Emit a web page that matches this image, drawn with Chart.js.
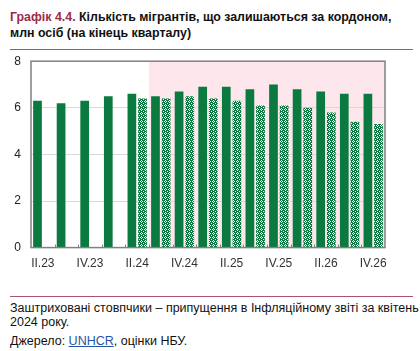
<!DOCTYPE html>
<html>
<head>
<meta charset="utf-8">
<script src="https://cdn.jsdelivr.net/npm/chart.js@4"></script>
<style>
  body { margin: 0; width: 420px; height: 351px; background: #fff; font-family: "Liberation Sans", Arial, sans-serif; position: relative; overflow: hidden; }
  .title { position: absolute; left: 10px; top: 9px; width: 405px; font-size: 12.4px; font-weight: bold; line-height: 16px; color: #111; }
  .title span { color: #9b2a4a; }
  .rule { position: absolute; left: 10px; width: 403px; height: 1px; background: #a8546a; }
  #wrap { position: absolute; left: 0; top: 44px; width: 420px; height: 228px; }
  .note { position: absolute; left: 10px; font-size: 12.5px; line-height: 14px; color: #111; width: 410px; }
  .note a { color: #1f56a8; text-decoration: underline; }
</style>
</head>
<body>
<div class="title"><span>Графік 4.4.</span> Кількість мігрантів, що залишаються за кордоном,<br>млн осіб (на кінець кварталу)</div>
<div class="rule" style="top:49px"></div>
<div id="wrap"><canvas id="migr"></canvas></div>
<div class="rule" style="top:296px"></div>
<div class="note" style="top:301px">Заштриховані стовпчики – припущення в Інфляційному звіті за квітень 2024 року.</div>
<div class="note" style="top:334px">Джерело: <a>UNHCR</a>, оцінки НБУ.</div>
<script>
const quarters = ["II.23", "III.23", "IV.23", "I.24", "II.24", "III.24", "IV.24", "I.25", "II.25", "III.25", "IV.25", "I.26", "II.26", "III.26", "IV.26"];
const xTickLabels = ["II.23", "", "IV.23", "", "II.24", "", "IV.24", "", "II.25", "", "IV.25", "", "II.26", "", "IV.26"];
const actual = [6.3, 6.2, 6.3, 6.5, 6.6, 6.5, 6.7, 6.9, 6.9, 6.8, 7.0, 6.8, 6.7, 6.6, 6.6];
const aprilReport = [null, null, null, null, 6.4, 6.4, 6.5, 6.4, 6.3, 6.1, 6.1, 6.0, 5.8, 5.4, 5.3];
const yTicks = [0, 2, 4, 6, 8];
const forecastFrom = 5; // перший квартал прогнозу (III.24)

const green = "#0a7a40";

// штриховка
const tile = document.createElement("canvas");
tile.width = 4; tile.height = 4;
const t = tile.getContext("2d");
t.fillStyle = green;
t.fillRect(0, 0, 4, 4);
t.fillStyle = "#ffffff";
[[1, 0], [0, 1], [2, 1], [1, 2], [3, 3]].forEach(function (p) { t.fillRect(p[0], p[1], 1, 1); });
const hatchFill = document.getElementById("migr").getContext("2d").createPattern(tile, "repeat");

const bgAndFrame = {
  id: "bgAndFrame",
  beforeDraw(chart) {
    const ctx = chart.ctx, a = chart.chartArea, x = chart.scales.x;
    const x0 = (x.getPixelForTick(forecastFrom - 1) + x.getPixelForTick(forecastFrom)) / 2;
    ctx.save();
    ctx.fillStyle = "#fde7ec";
    ctx.fillRect(x0, a.top, a.right - x0, a.bottom - a.top);
    ctx.restore();
  },
  afterDraw(chart) {
    const ctx = chart.ctx, a = chart.chartArea, x = chart.scales.x;
    ctx.save();
    ctx.strokeStyle = "#808080";
    ctx.lineWidth = 1;
    for (let i = 1; i < quarters.length; i++) {
      const px = Math.round((x.getPixelForTick(i - 1) + x.getPixelForTick(i)) / 2) + 0.5;
      ctx.beginPath();
      ctx.moveTo(px, a.bottom);
      ctx.lineTo(px, a.bottom - 3);
      ctx.stroke();
    }
    ctx.lineWidth = 1.5;
    ctx.strokeRect(a.left, a.top, a.right - a.left, a.bottom - a.top);
    ctx.restore();
  }
};

new Chart(document.getElementById("migr"), {
  type: "bar",
  data: {
    labels: quarters,
    datasets: [
      {
        label: "Факт / оцінка",
        data: actual,
        backgroundColor: green,
        barPercentage: 0.82,
        categoryPercentage: 0.9
      },
      {
        label: "Інфляційний звіт, квітень 2024",
        data: aprilReport,
        backgroundColor: hatchFill,
        barPercentage: 0.82,
        categoryPercentage: 0.9
      }
    ]
  },
  options: {
    responsive: true,
    maintainAspectRatio: false,
    animation: false,
    layout: { padding: { left: 0, right: 35, top: 0, bottom: 0 } },
    plugins: { legend: { display: false }, tooltip: { enabled: false } },
    scales: {
      x: {
        grid: { display: false },
        border: { display: false },
        ticks: {
          autoSkip: false,
          maxRotation: 0,
          padding: 1,
          color: "#333",
          font: { family: "Liberation Sans", size: 12 },
          callback: function (v, i) { return xTickLabels[i]; }
        }
      },
      y: {
        min: 0,
        max: 8,
        afterBuildTicks: function (s) { s.ticks = yTicks.map(function (v) { return { value: v }; }); },
        afterFit: function (s) { s.width = 31; },
        grid: { color: "#d9d9d9", drawTicks: false, lineWidth: 1 },
        border: { display: false },
        ticks: {
          padding: 10,
          color: "#222",
          font: { family: "Liberation Sans", size: 12 }
        }
      }
    }
  },
  plugins: [bgAndFrame]
});
</script>
</body>
</html>
